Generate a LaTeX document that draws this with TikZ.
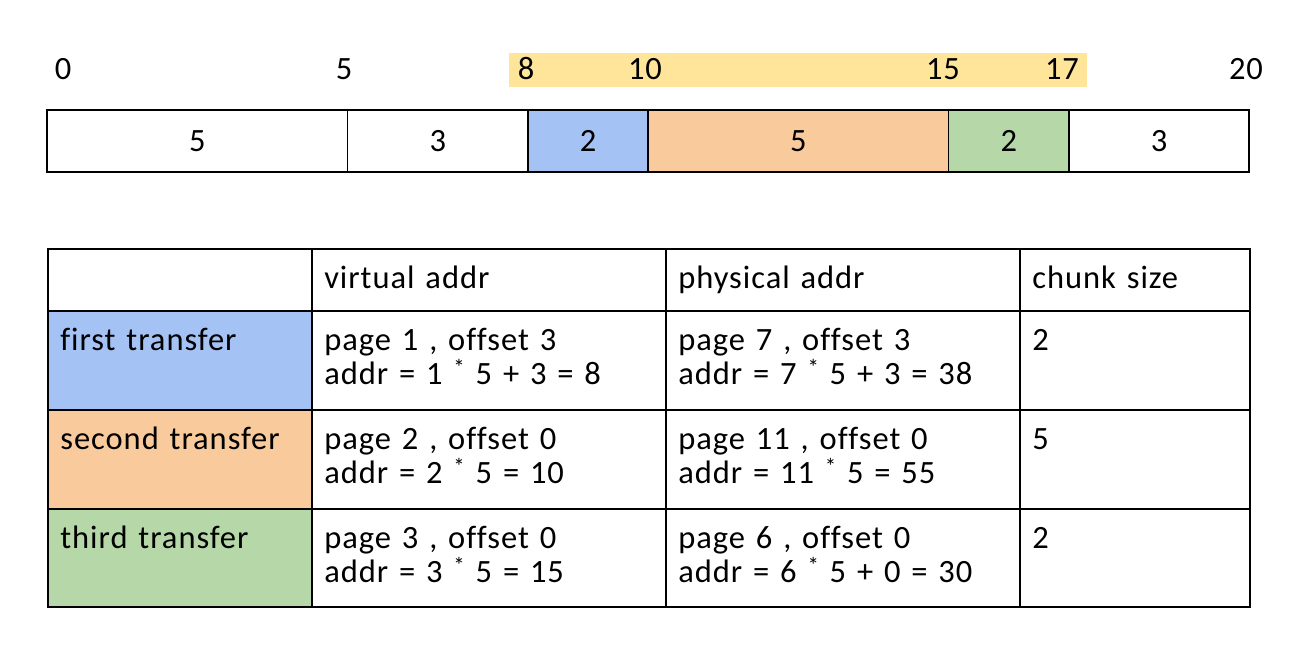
\documentclass[tikz,border=0pt]{standalone}
\usepackage{fontspec}
\setmainfont{Carlito}[Ligatures=NoCommon, LetterSpace=3]
\usetikzlibrary{positioning}
\usepackage{xcolor}
\definecolor{chunkblue}{HTML}{A4C2F4}
\definecolor{chunkorange}{HTML}{F9CB9C}
\definecolor{chunkgreen}{HTML}{B6D7A8}
\definecolor{rangeyellow}{HTML}{FFE599}
\newcommand{\mulstar}{\raisebox{0.28em}{\fontsize{13}{13}\selectfont *}}

\begin{document}
\begin{tikzpicture}[x=0.02cm, y=-0.02cm,
    every node/.style={font=\fontsize{18.5}{19.9}\selectfont},
    seg/.style={draw, line width=1.1pt, inner sep=0pt, minimum height=62*0.02cm},
    tick/.style={anchor=base, inner sep=0pt},
    cell/.style={draw, line width=1.1pt, inner sep=0pt, anchor=north west},
    celltext/.style={anchor=base west, align=left, inner sep=0pt, text width=6.5cm}]

        \useasboundingbox (0,0) rectangle (1305,669);

        % Offsets
        \fill[rangeyellow] (509,53) rectangle (1087,87);
        \foreach \name/\x/\val in {t0/63/0, t5/344/5, t8/526/8, t10/645/10, t15/943/15, t17/1062/17, t20/1246/20}
        {
          \node[tick] (\name) at (\x,80) {\val};
        }

        % Chunk bar
        \foreach \name/\from/\to/\len/\col in {b1/47/347.5/5/white, b2/347.5/528/3/white, b3/528/648/2/chunkblue, b4/648/948.5/5/chunkorange, b5/948.5/1069/2/chunkgreen, b6/1069/1249/3/white}
        {
          \node[seg, fill=\col, minimum width={(\to-\from)*0.02cm}] (\name) at ({(\from+\to)/2},141) {\len};
        }

        % Table header
        \node[cell, minimum width=264*0.02cm, minimum height=62*0.02cm] (h0) at (47,248) {};
        \foreach \name/\from/\to/\txt in {h1/311/665/virtual addr, h2/665/1019/physical addr, h3/1019/1249/chunk size}
        {
          \node[cell, minimum width={(\to-\from)*0.02cm}, minimum height=62*0.02cm] (\name) at (\from,248) {};
          \node[celltext] (\name-txt) at ([shift={(13,40)}]\name.north west) {\txt};
        }

        % Table rows
        \foreach \i/\top/\hgt/\col/\lab/\virt/\phys/\size in {
          1/310/99/chunkblue/first transfer/{page 1 , offset 3\\addr = 1 \mulstar{} 5 + 3 = 8}/{page 7 , offset 3\\addr = 7 \mulstar{} 5 + 3 = 38}/2,
          2/409/99/chunkorange/second transfer/{page 2 , offset 0\\addr = 2 \mulstar{} 5 = 10}/{page 11 , offset 0\\addr = 11 \mulstar{} 5 = 55}/5,
          3/508/98/chunkgreen/third transfer/{page 3 , offset 0\\addr = 3 \mulstar{} 5 = 15}/{page 6 , offset 0\\addr = 6 \mulstar{} 5 + 0 = 30}/2}
        {
          \node[cell, fill=\col, minimum width=264*0.02cm, minimum height=\hgt*0.02cm] (lab\i) at (47,\top) {};
          \node[cell, minimum width=354*0.02cm, minimum height=\hgt*0.02cm] (virt\i) at (311,\top) {};
          \node[cell, minimum width=354*0.02cm, minimum height=\hgt*0.02cm] (phys\i) at (665,\top) {};
          \node[cell, minimum width=230*0.02cm, minimum height=\hgt*0.02cm] (size\i) at (1019,\top) {};
          \node[celltext] (lab\i-txt) at ([shift={(13,40)}]lab\i.north west) {\lab};
          \node[celltext] (virt\i-txt) at ([shift={(13,40)}]virt\i.north west) {\virt};
          \node[celltext] (phys\i-txt) at ([shift={(13,40)}]phys\i.north west) {\phys};
          \node[celltext] (size\i-txt) at ([shift={(13,40)}]size\i.north west) {\size};
        }
    \end{tikzpicture}
\end{document}
